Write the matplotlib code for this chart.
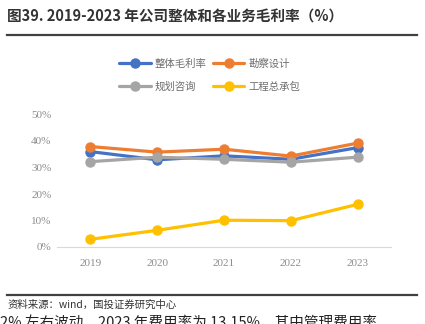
import matplotlib.pyplot as plt
from matplotlib.ticker import PercentFormatter

plt.rcParams['font.family'] = ['Noto Sans CJK SC', 'DejaVu Sans']

years = ['2019', '2020', '2021', '2022', '2023']
overall = [36.0, 32.9, 34.4, 33.1, 37.5]
survey = [37.9, 35.8, 36.9, 34.3, 39.2]
consult = [32.2, 33.9, 33.1, 32.0, 33.9]
epc = [2.9, 6.3, 10.1, 9.95, 16.1]

names = ['整体毛利率', '勘察设计', '规划咨询', '工程总承包']
colors = ['#4472C4', '#ED7D31', '#A5A5A5', '#FFC000']

fig = plt.figure(figsize=(4.25, 3.24), dpi=100)
ax = fig.add_axes([57 / 425, 1 - 247 / 324, 334 / 425, 132.5 / 324])

x = range(len(years))
lines = []
for vals, name, c in zip([overall, survey, consult, epc], names, colors):
    l, = ax.plot(x, vals, color=c, lw=2.3, marker='o', ms=6.5, label=name,
                 solid_capstyle='round')
    lines.append(l)

ax.set_xlim(-0.5, 4.5)
ax.set_ylim(0, 50)
ax.set_yticks([0, 10, 20, 30, 40, 50])
ax.yaxis.set_major_formatter(PercentFormatter(decimals=0))
ax.set_xticks(list(x))
ax.set_xticklabels(years)
for lab in ax.get_xticklabels() + ax.get_yticklabels():
    lab.set_fontfamily('Liberation Serif')
    lab.set_fontsize(8)
    lab.set_color('#8c8c8c')
ax.tick_params(length=0, pad=9)
ax.tick_params(axis='y', pad=4)
for s in ['top', 'right', 'left']:
    ax.spines[s].set_visible(False)
ax.spines['bottom'].set_color('#d9d9d9')

# legend: row-wise order
order = [0, 2, 1, 3]
leg = fig.legend([lines[i] for i in order], [names[i] for i in order],
                 ncol=2, frameon=False, loc='upper left',
                 bbox_to_anchor=(110 / 425, 1 - 49 / 324),
                 fontsize=7.5, handlelength=3.0, labelspacing=1.25,
                 columnspacing=0.6, handletextpad=0.4)
for t in leg.get_texts():
    t.set_color('#6e6e6e')

# title and frame lines
fig.text(7 / 425, 1 - 17 / 324, '图39. 2019-2023 年公司整体和各业务毛利率（%）',
         fontsize=10.5, fontweight='bold', color='#333333', va='center')
fig.add_artist(plt.Line2D([7 / 425, 417 / 425], [1 - 35 / 324, 1 - 35 / 324],
                          color='#404040', lw=1.6))
fig.add_artist(plt.Line2D([7 / 425, 417 / 425], [1 - 295 / 324, 1 - 295 / 324],
                          color='#404040', lw=1.6))
fig.text(8 / 425, 1 - 305 / 324, '资料来源：wind，国投证券研究中心',
         fontsize=7.5, style='italic', color='#333333', va='center')
fig.text(0, 1 - 316 / 324, '2% 左右波动，2023 年费用率为 13.15%，其中管理费用率',
         fontsize=10.5, color='#222222', va='top')

fig.savefig('out.png', dpi=100)
